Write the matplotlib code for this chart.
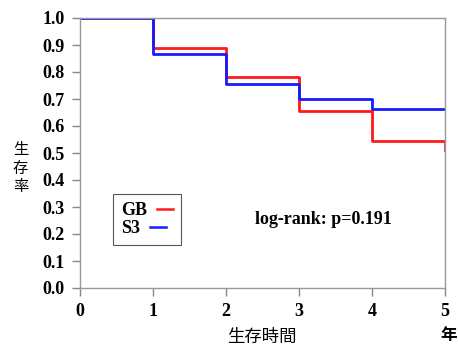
import matplotlib
matplotlib.use('Agg')
import matplotlib.pyplot as plt

# Kaplan-Meier step values
times = [0, 1, 2, 3, 4, 5]
gb_surv = [1.0, 0.889, 0.783, 0.654, 0.543, 0.543]
s3_surv = [1.0, 0.868, 0.757, 0.700, 0.663, 0.663]
gb_end = [0.543, 0.512]  # final drop at year 5

y_ticks = [0.0, 0.1, 0.2, 0.3, 0.4, 0.5, 0.6, 0.7, 0.8, 0.9, 1.0]
x_ticks = [0, 1, 2, 3, 4, 5]

serif = 'Liberation Serif'
cjk = ['Noto Sans CJK JP', 'DejaVu Sans']

fig = plt.figure(figsize=(4.58, 3.45), dpi=100)
ax = fig.add_axes([80 / 458, 1 - 288 / 345, 365 / 458, 270 / 345])

ax.step(times, gb_surv, where='post', color='#ff1a1a', lw=2, label='GB')
ax.plot([5, 5], gb_end, color='#ff1a1a', lw=2)
ax.step(times, s3_surv, where='post', color='#1a1aff', lw=2, label='S3')

ax.set_xlim(0, 5)
ax.set_ylim(0, 1)
ax.set_xticks(x_ticks)
ax.set_yticks(y_ticks)
ax.set_xticklabels([str(t) for t in x_ticks], fontfamily=serif, fontweight='bold', fontsize=13)
ax.set_yticklabels(['%.1f' % v for v in y_ticks], fontfamily=serif, fontweight='bold', fontsize=13)
ax.tick_params(colors='#888888', length=6, width=1, labelcolor='black', pad=5)

for s in ax.spines.values():
    s.set_color('#999999')
    s.set_linewidth(1)

leg = ax.legend(loc='upper left', bbox_to_anchor=(33 / 365, 94 / 270), markerfirst=False,
                handlelength=0.9, fancybox=False, framealpha=1, borderpad=0.45,
                handletextpad=0.55, labelspacing=0.05, borderaxespad=0,
                prop={'family': serif, 'weight': 'bold', 'size': 13})
leg.get_frame().set_edgecolor('#555555')
leg.get_frame().set_linewidth(0.8)
for col in leg._legend_handle_box.get_children():
    col.align = 'left'
for ln in leg.get_lines():
    ln.set_linewidth(1.8)

ax.text(3.33, 0.252, 'log-rank: p=0.191', ha='center', va='center',
        fontfamily=serif, fontweight='bold', fontsize=13)

fig.text(20.5 / 458, 1 - 168 / 345, '生\n存\n率', ha='center', va='center',
         family=cjk, fontsize=11, linespacing=1.1)
fig.text(262 / 458, 1 - 337 / 345, '生存時間', ha='center', va='center',
         family=cjk, fontsize=12.5)
fig.text(449 / 458, 1 - 335 / 345, '年', ha='center', va='center',
         family=cjk, fontsize=12, fontweight='bold')

fig.savefig('out.png', dpi=100)
